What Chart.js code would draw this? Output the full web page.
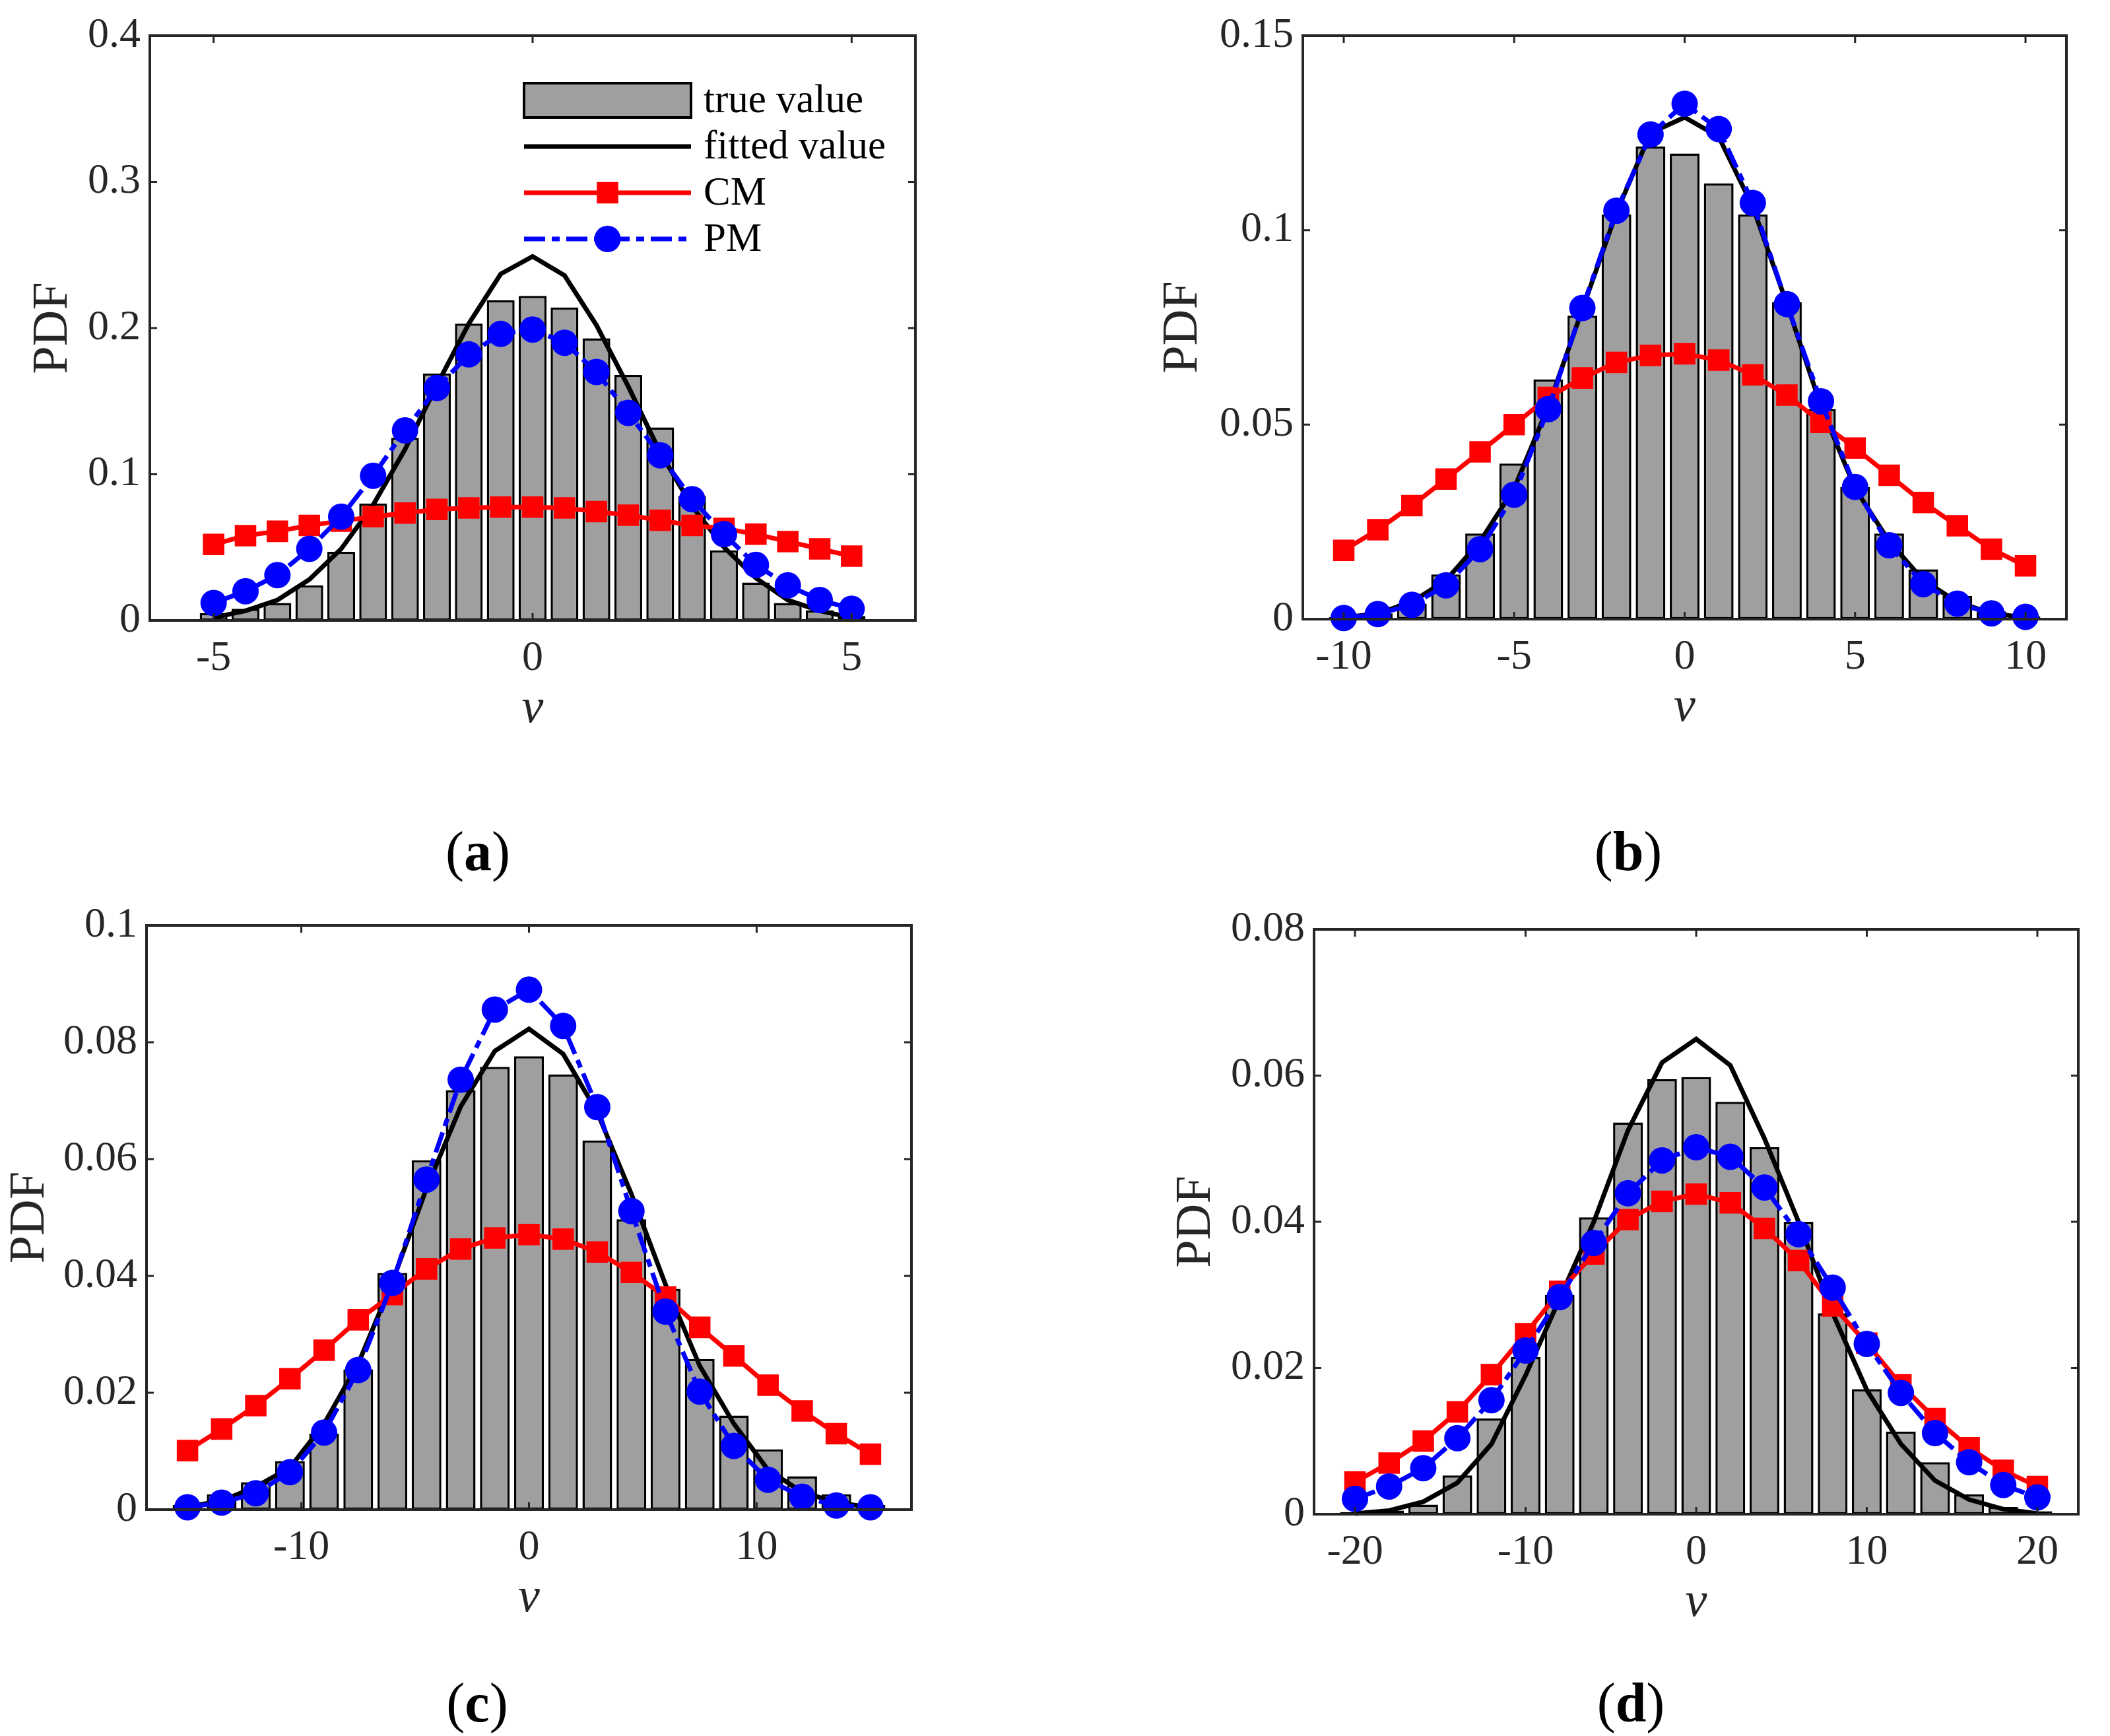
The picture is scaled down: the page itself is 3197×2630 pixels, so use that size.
<!DOCTYPE html>
<html>
<head>
<meta charset="utf-8">
<script src="https://cdn.jsdelivr.net/npm/chart.js@4.4.1/dist/chart.umd.min.js"></script>
<style>
  html, body { margin: 0; padding: 0; background: #fff; }
  #page { position: relative; width: 3197px; height: 2630px; background: #fff; overflow: hidden; }
  canvas { position: absolute; }
  .cap { position: absolute; font-family: 'Liberation Serif', 'Times New Roman', serif; font-size: 84px;
         line-height: 1; color: #000; transform: translate(-50%, -50%); white-space: nowrap; }
</style>
</head>
<body>
<div id="page"></div>
<script>
// ---- data ----
const vA = [-5, -4.5, -4, -3.5, -3, -2.5, -2, -1.5, -1, -0.5, 0, 0.5, 1, 1.5, 2, 2.5, 3, 3.5, 4, 4.5, 5];
const trueA = [0.005, 0.008, 0.012, 0.024, 0.047, 0.080, 0.125, 0.169, 0.203, 0.219, 0.222, 0.214, 0.193, 0.168, 0.132, 0.085, 0.048, 0.026, 0.012, 0.007, 0.003];
const fitA = [0.002, 0.0066, 0.014, 0.028, 0.049, 0.079, 0.117, 0.161, 0.203, 0.237, 0.249, 0.236, 0.202, 0.160, 0.115, 0.078, 0.050, 0.029, 0.014, 0.0066, 0.002];
const cmA = [0.052, 0.058, 0.061, 0.065, 0.068, 0.071, 0.0735, 0.076, 0.077, 0.0775, 0.0775, 0.077, 0.0745, 0.072, 0.0685, 0.065, 0.063, 0.059, 0.054, 0.049, 0.044];
const pmA = [0.012, 0.020, 0.031, 0.049, 0.071, 0.099, 0.130, 0.159, 0.182, 0.196, 0.199, 0.190, 0.170, 0.142, 0.113, 0.083, 0.059, 0.038, 0.024, 0.014, 0.008];
const xTicksA = [-5, 0, 5];
const yTicksA = [0, 0.1, 0.2, 0.3, 0.4];

const vB = [-10, -9, -8, -7, -6, -5, -4, -3, -2, -1, 0, 1, 2, 3, 4, 5, 6, 7, 8, 9, 10];
const trueB = [0.0005, 0.0015, 0.004, 0.0115, 0.022, 0.040, 0.0616, 0.078, 0.104, 0.1215, 0.1197, 0.112, 0.104, 0.0815, 0.054, 0.034, 0.022, 0.0128, 0.006, 0.002, 0.0007];
const fitB = [0.0004, 0.0015, 0.0044, 0.010, 0.020, 0.0336, 0.0547, 0.0796, 0.1045, 0.125, 0.129, 0.124, 0.106, 0.081, 0.0547, 0.0336, 0.020, 0.010, 0.0044, 0.0015, 0.0004];
const cmB = [0.0177, 0.023, 0.0292, 0.036, 0.043, 0.050, 0.057, 0.062, 0.066, 0.0678, 0.0682, 0.0666, 0.0628, 0.0576, 0.0506, 0.044, 0.037, 0.030, 0.024, 0.018, 0.0137];
const pmB = [0.0003, 0.0013, 0.0037, 0.0087, 0.018, 0.032, 0.054, 0.080, 0.105, 0.1246, 0.1325, 0.126, 0.107, 0.081, 0.056, 0.034, 0.019, 0.009, 0.004, 0.0015, 0.0006];
const xTicksB = [-10, -5, 0, 5, 10];
const yTicksB = [0, 0.05, 0.1, 0.15];

const vC = [-15, -13.5, -12, -10.5, -9, -7.5, -6, -4.5, -3, -1.5, 0, 1.5, 3, 4.5, 6, 7.5, 9, 10.5, 12, 13.5, 15];
const trueC = [0.0008, 0.0026, 0.0047, 0.0083, 0.013, 0.024, 0.0405, 0.0598, 0.0718, 0.0758, 0.0776, 0.0745, 0.0632, 0.0497, 0.0378, 0.0258, 0.0161, 0.0103, 0.0057, 0.0026, 0.0008];
const fitC = [0.0005, 0.0015, 0.0039, 0.0072, 0.0147, 0.025, 0.039, 0.055, 0.069, 0.0785, 0.0823, 0.078, 0.068, 0.054, 0.0385, 0.0246, 0.0147, 0.0068, 0.003, 0.0012, 0.0004];
const cmC = [0.0101, 0.0138, 0.0178, 0.0224, 0.0273, 0.0325, 0.0368, 0.0412, 0.0446, 0.0465, 0.0471, 0.0463, 0.0441, 0.0406, 0.0364, 0.0312, 0.0263, 0.0213, 0.0169, 0.013, 0.0095];
const pmC = [0.0004, 0.0012, 0.0028, 0.0064, 0.0132, 0.0239, 0.0388, 0.0565, 0.0736, 0.0856, 0.089, 0.0828, 0.0689, 0.0511, 0.0339, 0.0202, 0.0109, 0.0051, 0.0022, 0.0007, 0.0004];
const xTicksC = [-10, 0, 10];
const yTicksC = [0, 0.02, 0.04, 0.06, 0.08, 0.1];

const vD = [-20, -18, -16, -14, -12, -10, -8, -6, -4, -2, 0, 2, 4, 6, 8, 10, 12, 14, 16, 18, 20];
const trueD = [0.0003, 0.0005, 0.0013, 0.0053, 0.0131, 0.0215, 0.030, 0.0406, 0.0536, 0.0595, 0.0598, 0.0564, 0.0502, 0.040, 0.0275, 0.0171, 0.0113, 0.0071, 0.0027, 0.001, 0.0004];
const fitD = [0.0001, 0.0005, 0.0017, 0.0043, 0.0096, 0.019, 0.0295, 0.040, 0.0525, 0.0618, 0.065, 0.0614, 0.0514, 0.040, 0.0275, 0.017, 0.0096, 0.0046, 0.002, 0.0007, 0.0001];
const cmD = [0.0044, 0.007, 0.010, 0.014, 0.0191, 0.0247, 0.0305, 0.0356, 0.0403, 0.0428, 0.0438, 0.0426, 0.0391, 0.0347, 0.0285, 0.0234, 0.0177, 0.0131, 0.0091, 0.006, 0.0038];
const pmD = [0.0021, 0.0038, 0.0063, 0.0104, 0.0156, 0.0224, 0.0297, 0.0371, 0.0439, 0.0484, 0.0502, 0.0489, 0.0447, 0.0383, 0.031, 0.0233, 0.0166, 0.0111, 0.0071, 0.004, 0.0023];
const xTicksD = [-20, -10, 0, 10, 20];
const yTicksD = [0, 0.02, 0.04, 0.06, 0.08];

const legendLabels = ['true value', 'fitted value', 'CM', 'PM'];

// ---- look ----
const SERIF = "'Liberation Serif', 'Times New Roman', serif";
const AXIS = '#262626';
const GRAY = '#9f9f9f';
const PM_DASH = [32, 10, 12, 10];
Chart.defaults.font.family = SERIF;
Chart.defaults.color = AXIS;

// matlab-like box with inward ticks on all four sides
const boxPlugin = {
  id: 'boxPlugin',
  afterDatasetsDraw(chart) {
    const { ctx, chartArea: a, scales: { x, y } } = chart;
    ctx.save();
    ctx.strokeStyle = AXIS;
    ctx.lineWidth = 3;
    ctx.beginPath();
    x.ticks.forEach(t => {
      const px = x.getPixelForValue(t.value);
      ctx.moveTo(px, a.bottom); ctx.lineTo(px, a.bottom - 11);
      ctx.moveTo(px, a.top); ctx.lineTo(px, a.top + 11);
    });
    y.ticks.forEach(t => {
      const py = y.getPixelForValue(t.value);
      ctx.moveTo(a.left, py); ctx.lineTo(a.left + 11, py);
      ctx.moveTo(a.right, py); ctx.lineTo(a.right - 11, py);
    });
    ctx.stroke();
    ctx.lineWidth = 4;
    ctx.strokeRect(a.left, a.top, a.right - a.left, a.bottom - a.top);
    ctx.restore();
  }
};

// legend of panel (a), drawn inside the axes
const legendPlugin = {
  id: 'legendPlugin',
  afterDraw(chart) {
    const { ctx, chartArea: a } = chart;
    const ds = chart.data.datasets;
    const x0 = a.left + 567, x1 = a.left + 820, xm = (x0 + x1) / 2, tx = a.left + 839;
    const rows = [98, 168, 238, 308].map(r => a.top + r);
    ctx.save();
    // bar patch
    ctx.fillStyle = GRAY;
    ctx.fillRect(x0, rows[0] - 26, x1 - x0, 52);
    ctx.strokeStyle = '#000';
    ctx.lineWidth = 4;
    ctx.strokeRect(x0, rows[0] - 26, x1 - x0, 52);
    // lines
    const byLabel = l => ds.find(d => d.label === l);
    [1, 2, 3].forEach(i => {
      const d = byLabel(legendLabels[i]);
      ctx.strokeStyle = d.borderColor;
      ctx.lineWidth = d.borderWidth;
      ctx.setLineDash(d.borderDash || []);
      ctx.beginPath();
      ctx.moveTo(x0, rows[i]); ctx.lineTo(x1, rows[i]);
      ctx.stroke();
      ctx.setLineDash([]);
      if (d.pointRadius > 0) {
        ctx.fillStyle = d.pointBackgroundColor;
        if (d.pointStyle === 'rect') {
          const s = d.pointRadius * Math.SQRT1_2;
          ctx.fillRect(xm - s, rows[i] - s, 2 * s, 2 * s);
        } else {
          ctx.beginPath();
          ctx.arc(xm, rows[i], d.pointRadius, 0, Math.PI * 2);
          ctx.fill();
        }
      }
    });
    ctx.fillStyle = '#000';
    ctx.font = '61px ' + SERIF;
    ctx.textBaseline = 'middle';
    ctx.textAlign = 'left';
    legendLabels.forEach((l, i) => ctx.fillText(l, tx, rows[i] + 2));
    ctx.restore();
  }
};

// ---- layout of the four panels (axes box in page pixels) ----
const panels = [
  { cap: 'a', L: 227, R: 1387, T: 54, B: 940, xMin: -6, xMax: 6, yMax: 0.4, yPad: 47,
    v: vA, tru: trueA, fit: fitA, cm: cmA, pm: pmA, xt: xTicksA, yt: yTicksA, legend: true, cx: 724, cy: 1290 },
  { cap: 'b', L: 1974, R: 3131, T: 54, B: 938, xMin: -11.2, xMax: 11.2, yMax: 0.15, yPad: 12,
    v: vB, tru: trueB, fit: fitB, cm: cmB, pm: pmB, xt: xTicksB, yt: yTicksB, legend: false, cx: 2467, cy: 1290 },
  { cap: 'c', L: 222, R: 1381, T: 1402, B: 2287, xMin: -16.8, xMax: 16.8, yMax: 0.1, yPad: 17,
    v: vC, tru: trueC, fit: fitC, cm: cmC, pm: pmC, xt: xTicksC, yt: yTicksC, legend: false, cx: 723, cy: 2580 },
  { cap: 'd', L: 1991, R: 3149, T: 1408, B: 2294, xMin: -22.4, xMax: 22.4, yMax: 0.08, yPad: 15,
    v: vD, tru: trueD, fit: fitD, cm: cmD, pm: pmD, xt: xTicksD, yt: yTicksD, legend: false, cx: 2471, cy: 2580 }
];

const LEFT_W = 230, TOP_P = 60, RIGHT_P = 40, BOTTOM_H = 180;
const page = document.getElementById('page');

panels.forEach(p => {
  const cv = document.createElement('canvas');
  const w = p.R - p.L + LEFT_W + RIGHT_P;
  const h = p.B - p.T + TOP_P + BOTTOM_H;
  cv.width = w; cv.height = h;
  cv.style.left = (p.L - LEFT_W) + 'px';
  cv.style.top = (p.T - TOP_P) + 'px';
  cv.style.width = w + 'px'; cv.style.height = h + 'px';
  page.appendChild(cv);

  const pts = arr => p.v.map((v, i) => ({ x: v, y: arr[i] }));

  new Chart(cv, {
    type: 'bar',
    data: {
      datasets: [
        { label: 'PM', type: 'line', data: pts(p.pm), order: 1, clip: false,
          borderColor: '#0000ff', borderWidth: 7, borderDash: PM_DASH, tension: 0,
          pointStyle: 'circle', pointRadius: 20, pointBorderWidth: 0,
          pointBackgroundColor: '#0000ff', pointBorderColor: '#0000ff' },
        { label: 'CM', type: 'line', data: pts(p.cm), order: 2, clip: false,
          borderColor: '#ff0000', borderWidth: 7, tension: 0,
          pointStyle: 'rect', pointRadius: 23, pointBorderWidth: 0,
          pointBackgroundColor: '#ff0000', pointBorderColor: '#ff0000' },
        { label: 'fitted value', type: 'line', data: pts(p.fit), order: 3, clip: false,
          borderColor: '#000000', borderWidth: 7, tension: 0, pointRadius: 0 },
        { label: 'true value', type: 'bar', data: pts(p.tru), order: 4,
          backgroundColor: GRAY, borderColor: '#000000', borderWidth: 3.5, borderSkipped: false,
          barPercentage: 0.87, categoryPercentage: 1 }
      ]
    },
    options: {
      responsive: false,
      devicePixelRatio: 1,
      animation: false,
      layout: { padding: { top: TOP_P, right: RIGHT_P, bottom: 0, left: 0 } },
      plugins: { legend: { display: false }, tooltip: { enabled: false } },
      scales: {
        x: {
          type: 'linear', min: p.xMin, max: p.xMax, offset: false,
          grid: { display: false, drawTicks: false, offset: false },
          border: { display: false },
          afterBuildTicks: s => { s.ticks = p.xt.map(v => ({ value: v })); },
          afterFit: s => { s.height = BOTTOM_H; },
          ticks: { font: { size: 64 }, padding: 20, maxRotation: 0, autoSkip: false,
                   callback: v => String(v) },
          title: { display: true, text: 'v', color: AXIS,
                   font: { size: 74, style: 'italic', lineHeight: 1 }, padding: { top: 0, bottom: 8 } }
        },
        y: {
          min: 0, max: p.yMax,
          grid: { display: false, drawTicks: false },
          border: { display: false },
          afterBuildTicks: s => { s.ticks = p.yt.map(v => ({ value: v })); },
          afterFit: s => { s.width = LEFT_W; },
          ticks: { font: { size: 64 }, padding: 14, callback: v => String(v) },
          title: { display: true, text: 'PDF', color: AXIS,
                   font: { size: 76, lineHeight: 1 }, padding: { top: p.yPad - 1, bottom: 0 } }
        }
      }
    },
    plugins: p.legend ? [boxPlugin, legendPlugin] : [boxPlugin]
  });

  const cap = document.createElement('div');
  cap.className = 'cap';
  cap.style.left = p.cx + 'px';
  cap.style.top = p.cy + 'px';
  cap.innerHTML = '(<b>' + p.cap + '</b>)';
  page.appendChild(cap);
});
</script>
</body>
</html>
